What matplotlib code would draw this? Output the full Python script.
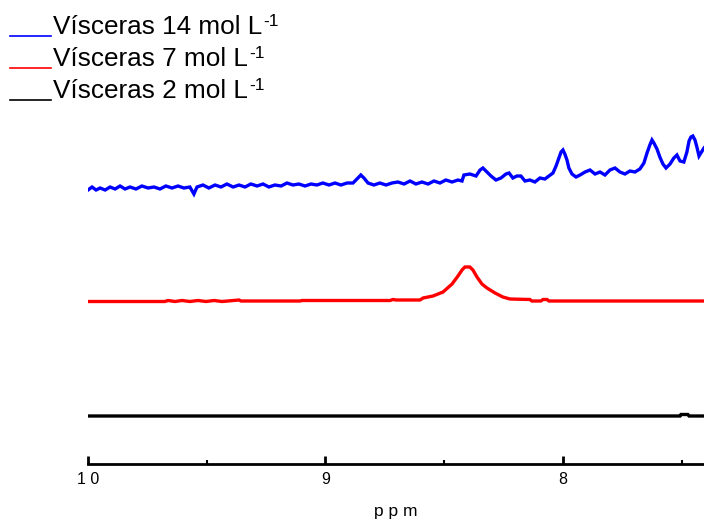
import matplotlib
matplotlib.use("Agg")
import matplotlib.pyplot as plt
from matplotlib.lines import Line2D
from matplotlib.ticker import FixedLocator

plt.rcParams["font.family"] = ["Liberation Sans", "DejaVu Sans"]

# spectra (ppm, intensity above own baseline)
ppm_14 = [10.000, 9.983, 9.966, 9.949, 9.928, 9.907, 9.886, 9.865, 9.844, 9.823,
          9.798, 9.773, 9.747, 9.722, 9.697, 9.672, 9.646, 9.621, 9.596, 9.571,
          9.554, 9.541, 9.516, 9.491, 9.465, 9.440, 9.415, 9.389, 9.364, 9.339,
          9.314, 9.288, 9.263, 9.238, 9.213, 9.187, 9.162, 9.137, 9.112, 9.086,
          9.061, 9.036, 9.011, 8.985, 8.960, 8.935, 8.909, 8.884, 8.863, 8.851,
          8.838, 8.821, 8.796, 8.771, 8.745, 8.720, 8.695, 8.669, 8.644, 8.619,
          8.594, 8.568, 8.543, 8.518, 8.493, 8.467, 8.442, 8.425, 8.417, 8.392,
          8.366, 8.349, 8.337, 8.320, 8.303, 8.282, 8.261, 8.240, 8.227, 8.211,
          8.194, 8.177, 8.160, 8.139, 8.118, 8.097, 8.076, 8.059, 8.042, 8.029,
          8.017, 8.008, 8.000, 7.992, 7.983, 7.975, 7.962, 7.945, 7.928, 7.907,
          7.886, 7.865, 7.844, 7.823, 7.802, 7.781, 7.760, 7.739, 7.718, 7.697,
          7.676, 7.659, 7.646, 7.634, 7.625, 7.617, 7.604, 7.592, 7.579, 7.566,
          7.549, 7.533, 7.520, 7.507, 7.491, 7.478, 7.469, 7.461, 7.453, 7.444,
          7.436, 7.427, 7.419, 7.406]
int_14 = [-2, 1, -2, 0, -2, 1, -1, 2, -1, 1,
          -1, 2, 0, 1, -1, 2, 0, 2, 0, 1,
          -6, 1, 3, 0, 3, 1, 4, 1, 3, 1,
          4, 2, 4, 1, 3, 2, 5, 3, 4, 2,
          4, 3, 5, 3, 5, 3, 5, 5, 10, 13,
          10, 5, 3, 5, 3, 5, 6, 4, 7, 4,
          6, 4, 7, 5, 8, 6, 8, 7, 13, 14,
          12, 18, 20, 16, 12, 8, 10, 14, 15, 10,
          12, 12, 7, 8, 6, 10, 9, 12, 15, 22,
          30, 36, 38, 34, 28, 20, 14, 11, 13, 16,
          18, 14, 16, 13, 18, 20, 16, 14, 17, 16,
          19, 25, 35, 43, 48, 45, 39, 31, 24, 20,
          24, 30, 33, 27, 26, 36, 47, 51, 52, 48,
          41, 32, 35, 40]

ppm_7 = [10.000, 9.676, 9.663, 9.634, 9.604, 9.571, 9.537, 9.503, 9.469, 9.436,
         9.411, 9.364, 9.356, 9.107, 9.099, 8.728, 8.716, 8.703, 8.602, 8.589,
         8.547, 8.505, 8.467, 8.442, 8.425, 8.413, 8.392, 8.379, 8.362, 8.341,
         8.320, 8.286, 8.253, 8.223, 8.139, 8.131, 8.093, 8.084, 8.067, 8.059,
         7.406]
int_7 = [-0.5, -0.5, 0.5, -0.5, 0.5, -0.5, 0.5, -0.5, 0.5, -0.5,
         0, 1, 0, 0, 0.5, 0.5, 1.5, 1, 1, 3,
         5, 9, 17, 25, 31, 34, 34, 31, 24, 17,
         13, 8, 4, 2, 1.5, 0, 0, 1.5, 1.5, 0,
         0]

ppm_2 = [10.000, 7.507, 7.503, 7.474, 7.469, 7.406]
int_2 = [0, 0, 1.5, 1.5, 0, 0]

labels = ["Vísceras 14 mol L", "Vísceras 7 mol L", "Vísceras 2 mol L"]
colors = ["#0000ff", "#ff0000", "#000000"]
offsets = [276, 163, 48]

assert len(ppm_14) == len(int_14) and len(ppm_7) == len(int_7)

fig = plt.figure(figsize=(7.04, 5.22), dpi=100)
ax = fig.add_axes([88 / 704, 58 / 522, 616 / 704, 344 / 522])

series = [(ppm_14, int_14), (ppm_7, int_7), (ppm_2, int_2)]
for (x, y), c, off in zip(series, colors, offsets):
    ax.plot(x, [v + off for v in y], color=c, lw=2.4, solid_joinstyle="miter")

ax.set_xlim(10, 7.406)
ax.set_ylim(0, 344)

for side in ["left", "right", "top"]:
    ax.spines[side].set_visible(False)
ax.spines["bottom"].set_linewidth(2)
ax.set_yticks([])
ax.xaxis.set_major_locator(FixedLocator([10, 9, 8]))
ax.xaxis.set_minor_locator(FixedLocator([9.5, 8.5, 7.5]))
ax.set_xticklabels(["1 0", "9", "8"], fontsize=11.5)
ax.tick_params(axis="x", which="major", direction="in", length=6, width=2, pad=6)
ax.tick_params(axis="x", which="minor", direction="in", length=3, width=1.5)
ax.set_xlabel("p p m", fontsize=12.5, labelpad=12)

# legend drawn by hand: underline swatch + text + small superscript
renderer = fig.canvas.get_renderer()
for i, (lab, c) in enumerate(zip(labels, colors)):
    yline = 1 - (36 + 32 * i) / 522
    fig.add_artist(Line2D([10 / 704, 51 / 704], [yline, yline], color=c, lw=1.2,
                          transform=fig.transFigure))
    ybase = yline + 2 / 522
    t = fig.text(53 / 704, ybase, lab, fontsize=18.8, ha="left", va="baseline")
    bb = t.get_window_extent(renderer)
    fig.text((bb.x1 + 1) / 704, ybase + 8 / 522, "-1", fontsize=12.5,
             ha="left", va="baseline")

fig.savefig("out.png", dpi=100)
